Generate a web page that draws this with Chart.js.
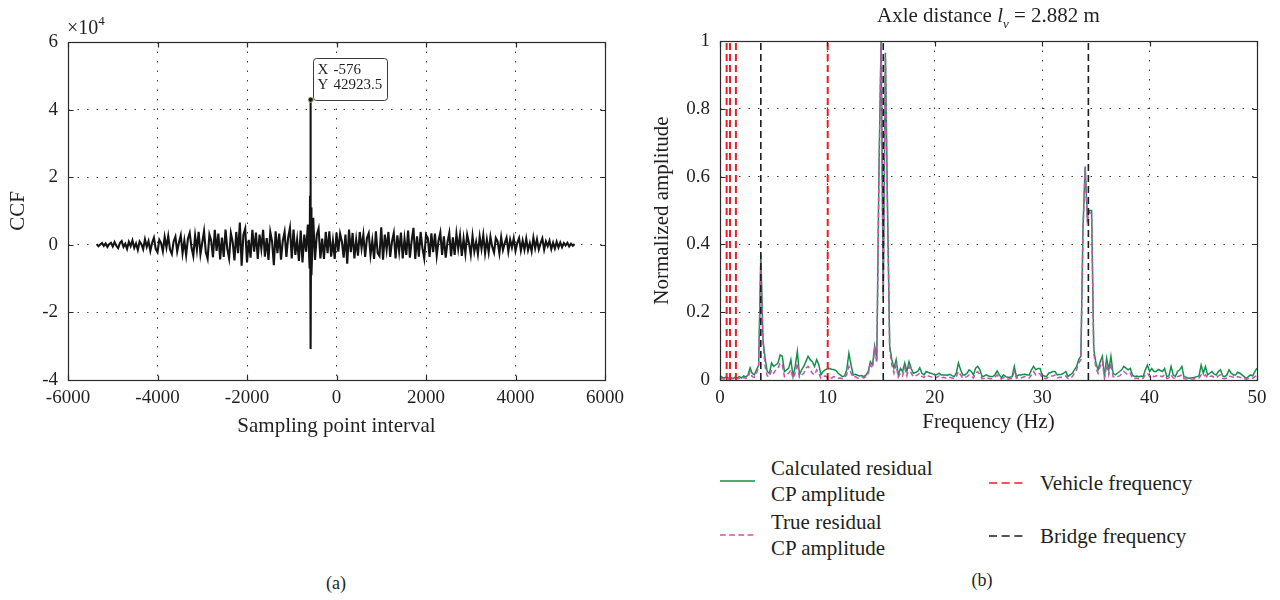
<!DOCTYPE html>
<html>
<head>
<meta charset="utf-8">
<script src="https://cdn.jsdelivr.net/npm/chart.js@4.4.1/dist/chart.umd.min.js"></script>
<style>
html,body{margin:0;padding:0;background:#fff;}
body{width:1280px;height:600px;position:relative;overflow:hidden;font-family:"Liberation Serif","Times New Roman",serif;color:#231f20;}
.box{position:absolute;}
.txt{position:absolute;white-space:nowrap;}
.leg{position:absolute;display:flex;align-items:center;font-size:21px;line-height:26px;white-space:nowrap;}
.leg svg{flex:none;margin-right:16px;}
</style>
</head>
<body>
<div class="box" style="left:0;top:0;width:640px;height:440px"><canvas id="ccf"></canvas></div>
<div class="box" style="left:640px;top:0;width:640px;height:440px"><canvas id="spec"></canvas></div>
<div class="txt" style="left:67px;top:16px;font-size:20px;line-height:22px">×10<span style="font-size:13px;position:relative;top:-9px">4</span></div>
<div class="txt" style="left:720px;width:537px;top:3px;text-align:center;font-size:21px;line-height:24px">Axle distance <i>l</i><span style="font-size:13px;font-style:italic;position:relative;top:6px">ν</span> = 2.882 m</div>
<div id="legend"></div>
<div class="txt" style="left:316px;width:40px;text-align:center;top:572px;font-size:18px;line-height:22px">(a)</div>
<div class="txt" style="left:962px;width:40px;text-align:center;top:569px;font-size:18px;line-height:22px">(b)</div>
<script>
// ---------- (a) cross-correlation function (values in units of 10^4) ----------
const ccfStart = -5360;   // first sampling-point lag
const ccfStep = 40;       // lag step
const ccfValues = [
  0.02,-0.04,0.01,0.05,-0.03,0.04,-0.06,0.02,0.06,-0.05,
  0.08,-0.03,-0.10,0.05,0.11,-0.06,0.03,-0.12,0.09,-0.04,
  0.13,-0.09,0.04,-0.15,0.10,0.02,-0.13,0.16,-0.06,0.11,
  -0.18,0.06,0.21,-0.12,-0.22,0.15,0.05,-0.19,0.23,-0.08,
  0.26,-0.14,-0.27,0.10,0.24,-0.20,0.07,0.28,-0.25,0.12,
  -0.30,0.18,0.35,-0.08,-0.33,0.27,-0.15,0.38,-0.28,0.06,
  0.40,-0.22,-0.41,0.30,0.12,-0.37,0.44,-0.18,0.33,-0.43,
  0.21,-0.36,0.45,-0.12,-0.40,0.34,0.08,-0.46,0.38,-0.25,
  0.66,-0.62,0.30,0.48,-0.52,0.15,-0.38,0.44,-0.20,0.36,
  -0.42,0.30,-0.12,0.44,-0.35,0.20,-0.45,0.38,0.10,-0.60,
  0.40,-0.25,0.33,-0.44,0.12,0.38,-0.36,0.22,0.50,-0.40,
  0.45,-0.30,0.15,-0.48,0.42,-0.52,0.30,-0.20,0.60,-0.70,
  -0.90,0.80,-0.45,0.30,0.48,-0.40,0.18,-0.42,0.38,-0.25,
  0.40,-0.35,0.12,-0.42,0.36,-0.20,0.33,0.10,-0.38,0.30,
  -0.56,0.45,-0.22,0.35,-0.40,0.15,-0.32,0.38,-0.10,0.30,
  -0.36,0.20,0.34,-0.30,0.12,-0.42,0.40,-0.25,-0.33,0.52,
  -0.44,0.30,-0.15,0.38,-0.36,0.10,0.35,-0.40,0.28,-0.20,
  0.36,-0.40,0.18,-0.30,0.42,-0.38,0.12,0.50,-0.42,0.25,
  -0.35,0.38,-0.10,-0.40,0.30,0.20,-0.36,0.34,-0.22,0.33,
  -0.32,0.12,0.36,-0.30,0.25,-0.38,0.08,0.35,-0.34,0.22,
  -0.30,0.32,-0.12,0.28,-0.33,0.18,-0.26,0.30,0.05,-0.29,
  0.26,-0.20,0.08,-0.27,0.24,-0.12,0.28,-0.25,0.15,-0.22,
  0.24,-0.06,-0.23,0.20,0.10,-0.25,0.22,-0.15,0.05,0.21,
  -0.20,0.15,-0.08,0.19,-0.18,0.06,0.20,-0.17,0.12,-0.15,
  0.18,-0.16,0.05,-0.19,0.21,-0.10,0.16,-0.14,0.04,0.19,
  -0.14,0.10,-0.04,0.12,-0.13,0.06,-0.11,0.09,-0.08,0.07,
  -0.07,0.05,-0.02,0.06,-0.05,0.03,-0.03,0.02
];
const peakLags   = [-592, -586, -580, -576, -572, -566];
const peakValues = [1.45, -1.20, 1.60, 4.29235, -3.08, 1.10];
const ccfXTicks = [-6000, -4000, -2000, 0, 2000, 4000, 6000];
const ccfYTicks = [-4, -2, 0, 2, 4, 6];

// ---------- (b) residual contact-point spectrum ----------
const freqStep = 0.2; // Hz between samples, starting at 0 Hz
const calcAmp = [
  0.012,0.008,0.006,0.009,0.005, 0.007,0.004,0.008,0.006,0.010,
  0.006,0.012,0.009,0.014,0.036, 0.020,0.015,0.030,0.044,0.370,
  0.120,0.064,0.025,0.020,0.050, 0.040,0.045,0.050,0.074,0.070,
  0.025,0.030,0.035,0.060,0.010, 0.040,0.084,0.015,0.030,0.040,
  0.055,0.070,0.060,0.054,0.040, 0.060,0.045,0.015,0.025,0.030,
  0.033,0.034,0.032,0.031,0.028, 0.020,0.015,0.010,0.012,0.030,
  0.079,0.045,0.015,0.017,0.014, 0.012,0.013,0.010,0.015,0.025,
  0.054,0.044,0.100,0.060,0.620, 1.000,0.250,0.965,0.500,0.100,
  0.060,0.035,0.060,0.015,0.034, 0.025,0.050,0.025,0.054,0.034,
  0.020,0.022,0.025,0.036,0.020, 0.015,0.025,0.022,0.020,0.018,
  0.015,0.016,0.020,0.015,0.015, 0.015,0.014,0.017,0.013,0.010,
  0.020,0.050,0.030,0.015,0.015, 0.020,0.030,0.025,0.015,0.035,
  0.040,0.030,0.010,0.012,0.015, 0.012,0.010,0.010,0.015,0.027,
  0.015,0.007,0.015,0.010,0.008, 0.008,0.010,0.040,0.010,0.015,
  0.015,0.016,0.017,0.015,0.015, 0.030,0.040,0.030,0.034,0.034,
  0.015,0.012,0.010,0.020,0.022, 0.025,0.025,0.015,0.016,0.017,
  0.020,0.025,0.010,0.015,0.020, 0.030,0.040,0.060,0.070,0.450,
  0.630,0.480,0.500,0.500,0.090, 0.050,0.030,0.054,0.070,0.010,
  0.064,0.030,0.070,0.020,0.015, 0.020,0.025,0.030,0.040,0.035,
  0.030,0.034,0.015,0.010,0.012, 0.010,0.012,0.010,0.030,0.044,
  0.025,0.034,0.025,0.025,0.031, 0.028,0.025,0.034,0.010,0.012,
  0.040,0.015,0.010,0.025,0.030, 0.040,0.010,0.008,0.005,0.006,
  0.007,0.008,0.010,0.012,0.044, 0.020,0.040,0.015,0.020,0.025,
  0.018,0.015,0.025,0.030,0.012, 0.010,0.015,0.030,0.020,0.015,
  0.015,0.023,0.020,0.015,0.010, 0.005,0.010,0.015,0.012,0.025,
  0.035
];
const trueAmp = [
  0.006,0.004,0.003,0.005,0.003, 0.004,0.002,0.004,0.003,0.006,
  0.003,0.008,0.005,0.008,0.025, 0.010,0.008,0.020,0.040,0.350,
  0.110,0.040,0.012,0.010,0.030, 0.020,0.030,0.035,0.050,0.045,
  0.010,0.015,0.020,0.030,0.005, 0.020,0.050,0.008,0.015,0.020,
  0.035,0.040,0.030,0.020,0.015, 0.030,0.020,0.005,0.010,0.012,
  0.008,0.004,0.006,0.010,0.008, 0.005,0.006,0.004,0.008,0.015,
  0.040,0.020,0.008,0.010,0.006, 0.005,0.008,0.006,0.010,0.018,
  0.045,0.035,0.090,0.050,0.600, 0.990,0.240,0.955,0.490,0.090,
  0.045,0.020,0.045,0.008,0.020, 0.012,0.035,0.012,0.040,0.020,
  0.010,0.012,0.015,0.020,0.010, 0.008,0.015,0.012,0.010,0.008,
  0.005,0.008,0.012,0.006,0.008, 0.006,0.005,0.008,0.006,0.004,
  0.010,0.025,0.015,0.006,0.008, 0.010,0.015,0.012,0.006,0.020,
  0.025,0.015,0.004,0.005,0.008, 0.005,0.004,0.005,0.008,0.015,
  0.006,0.003,0.008,0.004,0.003, 0.004,0.005,0.025,0.005,0.008,
  0.006,0.008,0.010,0.008,0.006, 0.015,0.025,0.015,0.020,0.018,
  0.006,0.005,0.004,0.010,0.012, 0.012,0.015,0.006,0.008,0.008,
  0.010,0.012,0.004,0.006,0.010, 0.020,0.030,0.050,0.060,0.440,
  0.625,0.470,0.495,0.490,0.080, 0.035,0.020,0.040,0.055,0.005,
  0.045,0.015,0.050,0.010,0.008, 0.010,0.012,0.018,0.025,0.020,
  0.015,0.020,0.006,0.004,0.006, 0.004,0.006,0.005,0.015,0.020,
  0.010,0.015,0.010,0.012,0.015, 0.012,0.010,0.015,0.004,0.006,
  0.015,0.006,0.004,0.010,0.012, 0.015,0.004,0.003,0.002,0.003,
  0.003,0.004,0.005,0.006,0.015, 0.010,0.015,0.006,0.010,0.012,
  0.008,0.006,0.012,0.015,0.005, 0.004,0.006,0.012,0.010,0.008,
  0.006,0.010,0.008,0.006,0.004, 0.002,0.004,0.006,0.005,0.010,
  0.015
];
const vehicleFreqs = [0.62, 0.93, 1.48, 10.03];
const bridgeFreqs  = [3.8, 15.2, 34.3];
const specXTicks = [0, 10, 20, 30, 40, 50];
const specYTicks = [0, 0.2, 0.4, 0.6, 0.8, 1];
const seriesLabels = [
  ['Calculated residual', 'CP amplitude'],
  ['True residual', 'CP amplitude'],
  ['Vehicle frequency'],
  ['Bridge frequency']
];

// ---------- shared styling ----------
const SERIF = '"Liberation Serif", "Times New Roman", serif';
const INK = '#231f20';
Chart.defaults.font.family = SERIF;
Chart.defaults.color = INK;

const matlabBox = {
  id: 'matlabBox',
  afterDatasetsDraw(chart) {
    const { ctx, chartArea: a, scales } = chart;
    ctx.save();
    ctx.strokeStyle = '#2a2a2a';
    ctx.lineWidth = 1.2;
    ctx.setLineDash([]);
    const L = Math.round(a.left) + 0.5, R = Math.round(a.right) + 0.5;
    const T = Math.round(a.top) + 0.5, B = Math.round(a.bottom) + 0.5;
    ctx.strokeRect(L, T, R - L, B - T);
    const tl = 5;
    ctx.beginPath();
    scales.x.ticks.forEach(t => {
      const p = Math.round(scales.x.getPixelForValue(t.value)) + 0.5;
      ctx.moveTo(p, B); ctx.lineTo(p, B - tl);
      ctx.moveTo(p, T); ctx.lineTo(p, T + tl);
    });
    scales.y.ticks.forEach(t => {
      const p = Math.round(scales.y.getPixelForValue(t.value)) + 0.5;
      ctx.moveTo(L, p); ctx.lineTo(L + tl, p);
      ctx.moveTo(R, p); ctx.lineTo(R - tl, p);
    });
    ctx.stroke();
    ctx.restore();
  }
};

function axisCommon(ticksList, fmt, pad) {
  return {
    type: 'linear',
    min: ticksList[0],
    max: ticksList[ticksList.length - 1],
    afterBuildTicks: s => { s.ticks = ticksList.map(v => ({ value: v })); },
    grid: { color: '#3a3a3a', lineWidth: 1, drawTicks: false },
    border: { display: false, dash: [1.5, 8] },
    ticks: { font: { size: 19, family: SERIF }, color: INK, padding: pad, callback: fmt, maxRotation: 0 }
  };
}

// ---------- chart (a) ----------
const ccfPoints = ccfValues.map((v, i) => ({ x: ccfStart + i * ccfStep, y: v }))
  .concat(peakLags.map((l, i) => ({ x: l, y: peakValues[i] })))
  .sort((p, q) => p.x - q.x);
let tipIdx = 0;
peakValues.forEach((v, i) => { if (v > peakValues[tipIdx]) tipIdx = i; });
const tipLag = peakLags[tipIdx], tipVal = peakValues[tipIdx];

const dataTip = {
  id: 'dataTip',
  afterDraw(chart) {
    const { ctx, scales: { x, y } } = chart;
    const px = x.getPixelForValue(tipLag), py = y.getPixelForValue(tipVal);
    ctx.save();
    const bx = Math.round(px + 2) + 0.5, by = Math.round(py - 42) + 0.5, bw = 74, bh = 42;
    ctx.beginPath();
    ctx.roundRect ? ctx.roundRect(bx, by, bw, bh, 3) : ctx.rect(bx, by, bw, bh);
    ctx.fillStyle = '#ffffff';
    ctx.fill();
    ctx.strokeStyle = '#3a3a3a';
    ctx.lineWidth = 1;
    ctx.stroke();
    ctx.fillStyle = INK;
    ctx.font = '15px ' + SERIF;
    ctx.textBaseline = 'middle';
    ctx.textAlign = 'left';
    ctx.fillText('X', bx + 4, by + 12);
    ctx.fillText(String(tipLag), bx + 20, by + 12);
    ctx.fillText('Y', bx + 4, by + 27);
    ctx.fillText((tipVal * 1e4).toFixed(1), bx + 20, by + 27);
    ctx.beginPath();
    ctx.arc(px, py, 2.6, 0, Math.PI * 2);
    ctx.fillStyle = '#1a1a1a';
    ctx.fill();
    ctx.strokeStyle = '#d8d49a';
    ctx.lineWidth = 0.8;
    ctx.stroke();
    ctx.restore();
  }
};

const xa = axisCommon(ccfXTicks, v => String(v), 7);
xa.afterFit = s => { s.height = 60; };
xa.title = { display: true, text: 'Sampling point interval', font: { size: 21, family: SERIF }, color: INK, padding: { top: 0, bottom: 1 } };
const ya = axisCommon(ccfYTicks, v => String(v), 10);
ya.afterFit = s => { s.width = 68; };
ya.title = { display: true, text: 'CCF', font: { size: 21, family: SERIF }, color: INK, padding: { top: 6, bottom: 0 } };

new Chart(document.getElementById('ccf'), {
  type: 'line',
  data: {
    datasets: [{
      label: 'CCF',
      data: ccfPoints,
      borderColor: '#141414',
      borderWidth: 2.1,
      pointRadius: 0,
      tension: 0
    }]
  },
  options: {
    responsive: true,
    maintainAspectRatio: false,
    animation: false,
    devicePixelRatio: 1,
    layout: { padding: { top: 42, right: 35, bottom: 0, left: 0 } },
    plugins: { legend: { display: false }, tooltip: { enabled: false } },
    scales: { x: xa, y: ya }
  },
  plugins: [matlabBox, dataTip]
});

// ---------- chart (b) ----------
const vLines = fs => fs.flatMap(f => [{ x: f, y: 0 }, { x: f, y: 1 }, { x: f, y: null }]);
const xb = axisCommon(specXTicks, v => String(v), 7);
xb.afterFit = s => { s.height = 60; };
xb.title = { display: true, text: 'Frequency (Hz)', font: { size: 21, family: SERIF }, color: INK, padding: { top: 0, bottom: 5 } };
const yb = axisCommon(specYTicks, v => String(Math.round(v * 10) / 10), 10);
yb.afterFit = s => { s.width = 80; };
yb.title = { display: true, text: 'Normalized amplitude', font: { size: 21, family: SERIF }, color: INK, padding: { top: 10, bottom: 0 } };

const specChart = new Chart(document.getElementById('spec'), {
  type: 'line',
  data: {
    datasets: [
      { label: seriesLabels[0].join(' '), data: calcAmp.map((v, i) => ({ x: i * freqStep, y: v })),
        borderColor: '#13904a', borderWidth: 1.5, pointRadius: 0, tension: 0, order: 4 },
      { label: seriesLabels[1].join(' '), data: trueAmp.map((v, i) => ({ x: i * freqStep, y: v })),
        borderColor: '#c653b4', borderWidth: 1.5, borderDash: [5, 3], pointRadius: 0, tension: 0, order: 3 },
      { label: seriesLabels[2].join(' '), data: vLines(vehicleFreqs),
        borderColor: '#ec1c24', borderWidth: 2, borderDash: [7, 4], pointRadius: 0, spanGaps: false, order: 2 },
      { label: seriesLabels[3].join(' '), data: vLines(bridgeFreqs),
        borderColor: '#1e1e1e', borderWidth: 1.6, borderDash: [7, 4], pointRadius: 0, spanGaps: false, order: 1 }
    ]
  },
  options: {
    responsive: true,
    maintainAspectRatio: false,
    animation: false,
    devicePixelRatio: 1,
    layout: { padding: { top: 41, right: 23, bottom: 0, left: 0 } },
    plugins: { legend: { display: false }, tooltip: { enabled: false } },
    scales: { x: xb, y: yb }
  },
  plugins: [matlabBox]
});

// ---------- HTML legend built from the chart's datasets ----------
const legendSlots = [
  { left: 720, top: 455 }, { left: 720, top: 509 },
  { left: 989, top: 470 }, { left: 989, top: 523 }
];
const legendBox = document.getElementById('legend');
specChart.data.datasets.forEach((ds, i) => {
  const slot = legendSlots[i];
  const dash = ds.borderDash ? ds.borderDash.map(d => d * 1.15).join(' ') : 'none';
  const item = document.createElement('div');
  item.className = 'leg';
  item.style.left = slot.left + 'px';
  item.style.top = slot.top + 'px';
  item.innerHTML =
    '<svg width="35" height="4"><line x1="0" y1="2" x2="35" y2="2" stroke="' + ds.borderColor +
    '" stroke-width="1.6" stroke-dasharray="' + dash + '"/></svg>' +
    '<div>' + seriesLabels[i].join('<br>') + '</div>';
  legendBox.appendChild(item);
});
</script>
</body>
</html>
